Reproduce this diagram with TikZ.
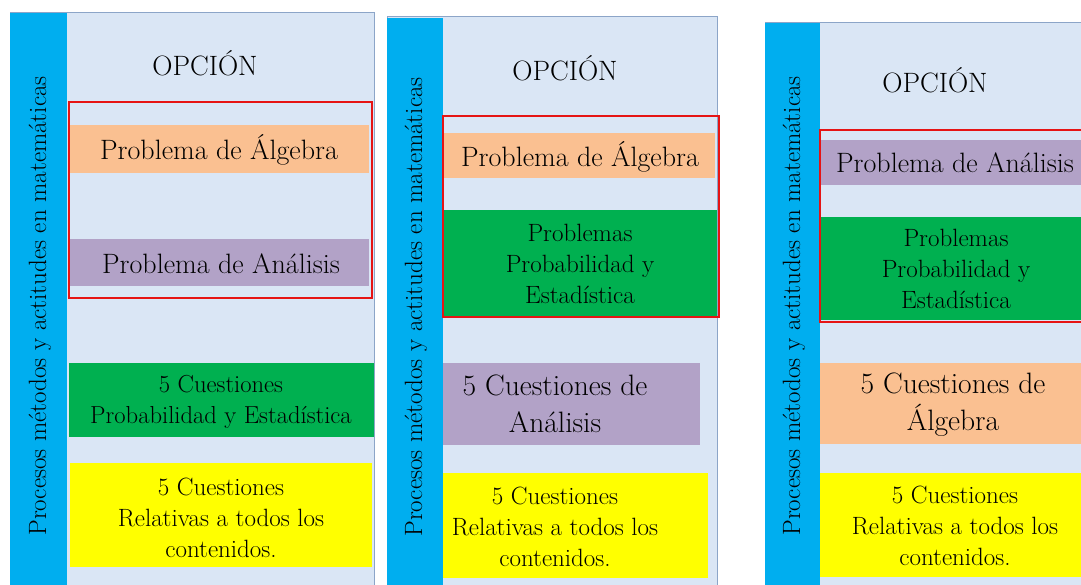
\documentclass[tikz,border=0pt]{standalone}
\usepackage{fontspec}
\definecolor{bandblue}{RGB}{0,174,239}
\definecolor{bgblue}{RGB}{218,230,245}
\definecolor{peach}{RGB}{250,192,145}
\definecolor{lilac}{RGB}{178,162,199}
\definecolor{grn}{RGB}{0,176,80}
\definecolor{ylw}{RGB}{255,255,0}
\definecolor{frameblue}{RGB}{140,165,200}
\definecolor{redline}{RGB}{230,20,20}
\begin{document}
\begin{tikzpicture}[x=1pt,y=-1pt,
  box/.style={anchor=north west,inner sep=0pt,outer sep=0pt,draw=none},
  panel/.style={box,fill=bgblue,draw=frameblue,line width=1pt},
  side/.style={box,fill=bandblue},
  sel/.style={box,draw=redline,line width=1.8pt},
  txt/.style={inner sep=0pt,align=center,font=\fontsize{25}{31}\selectfont},
  title/.style={inner sep=0pt,align=center,font=\fontsize{28}{31}\selectfont},
  big/.style={inner sep=0pt,align=center,font=\fontsize{29.5}{37}\selectfont},
  vtxt/.style={inner sep=0pt,rotate=90,font=\fontsize{25}{28}\selectfont},
  head/.style={inner sep=0pt,font=\fontsize{28}{31}\selectfont}]
\useasboundingbox (0,0) rectangle (1081,585);
\clip (0,0) rectangle (1081,585);
\fill[white] (0,0) rectangle (1081,585);
% ---------- panel 1
\node[panel,minimum width=364pt,minimum height=575pt] (p1) at (10,13) {};
\node[side,minimum width=57pt,minimum height=572pt] (s1) at (10,13) {};
\node[box,fill=peach,minimum width=300pt,minimum height=48pt] (a1) at (69,125) {};
\node[box,fill=lilac,minimum width=300pt,minimum height=47pt] (b1) at (69,239) {};
\node[box,fill=grn,minimum width=305pt,minimum height=74pt] (c1) at (69,363) {};
\node[box,fill=ylw,minimum width=302pt,minimum height=104pt] (d1) at (70,463) {};
\node[sel,minimum width=303pt,minimum height=196pt] (r1) at (69,102) {};
\node[vtxt] (v1) at (40,306) {Procesos métodos y actitudes en matemáticas};
\node[head] (h1) at (205,63) {OPCIÓN};
\node[title] (ta1) at (219,150) {Problema de Álgebra};
\node[title] (tb1) at (221,264) {Problema de Análisis};
\node[txt,font=\fontsize{24.6}{31}\selectfont] (tc1) at (221,402) {5 Cuestiones\\Probabilidad y Estadística};
\node[txt] (td1) at (221,518) {5 Cuestiones\\Relativas a todos los\\contenidos.};
% ---------- panel 2
\node[panel,minimum width=330pt,minimum height=570pt] (p2) at (387,17) {};
\node[side,minimum width=56pt,minimum height=568pt] (s2) at (387,18) {};
\node[box,fill=peach,minimum width=272pt,minimum height=45pt] (a2) at (443,133) {};
\node[box,fill=grn,minimum width=274pt,minimum height=106pt] (b2) at (443,210) {};
\node[box,fill=lilac,minimum width=257pt,minimum height=82pt] (c2) at (443,363) {};
\node[box,fill=ylw,minimum width=265pt,minimum height=105pt] (d2) at (443,473) {};
\node[sel,minimum width=276pt,minimum height=201pt] (r2) at (443,116) {};
\node[vtxt] (v2) at (416,307) {Procesos métodos y actitudes en matemáticas};
\node[head] (h2) at (565,68) {OPCIÓN};
\node[title] (ta2) at (580,157) {Problema de Álgebra};
\node[txt] (tb2) at (580,264) {Problemas\\Probabilidad y\\Estadística};
\node[big] (tc2) at (555,404) {5 Cuestiones de\\Análisis};
\node[txt] (td2) at (555,527) {5 Cuestiones\\Relativas a todos los\\contenidos.};
% ---------- panel 3
\node[panel,minimum width=330pt,minimum height=566pt] (p3) at (765,23) {};
\node[side,minimum width=55pt,minimum height=566pt] (s3) at (765,23) {};
\node[box,fill=lilac,minimum width=270pt,minimum height=45pt] (a3) at (820,140) {};
\node[box,fill=grn,minimum width=270pt,minimum height=103pt] (b3) at (820,217) {};
\node[box,fill=peach,minimum width=270pt,minimum height=81pt] (c3) at (820,363) {};
\node[box,fill=ylw,minimum width=270pt,minimum height=104pt] (d3) at (820,473) {};
\node[sel,minimum width=280pt,minimum height=192pt] (r3) at (820,130) {};
\node[vtxt] (v3) at (794,306) {Procesos métodos y actitudes en matemáticas};
\node[head] (h3) at (935,80) {OPCIÓN};
\node[title] (ta3) at (955,163) {Problema de Análisis};
\node[txt] (tb3) at (956,269) {Problemas\\Probabilidad y\\Estadística};
\node[big] (tc3) at (953,405) {5 Cuestiones de\\Álgebra};
\node[txt] (td3) at (955,526) {5 Cuestiones\\Relativas a todos los\\contenidos.};
\end{tikzpicture}
\end{document}
